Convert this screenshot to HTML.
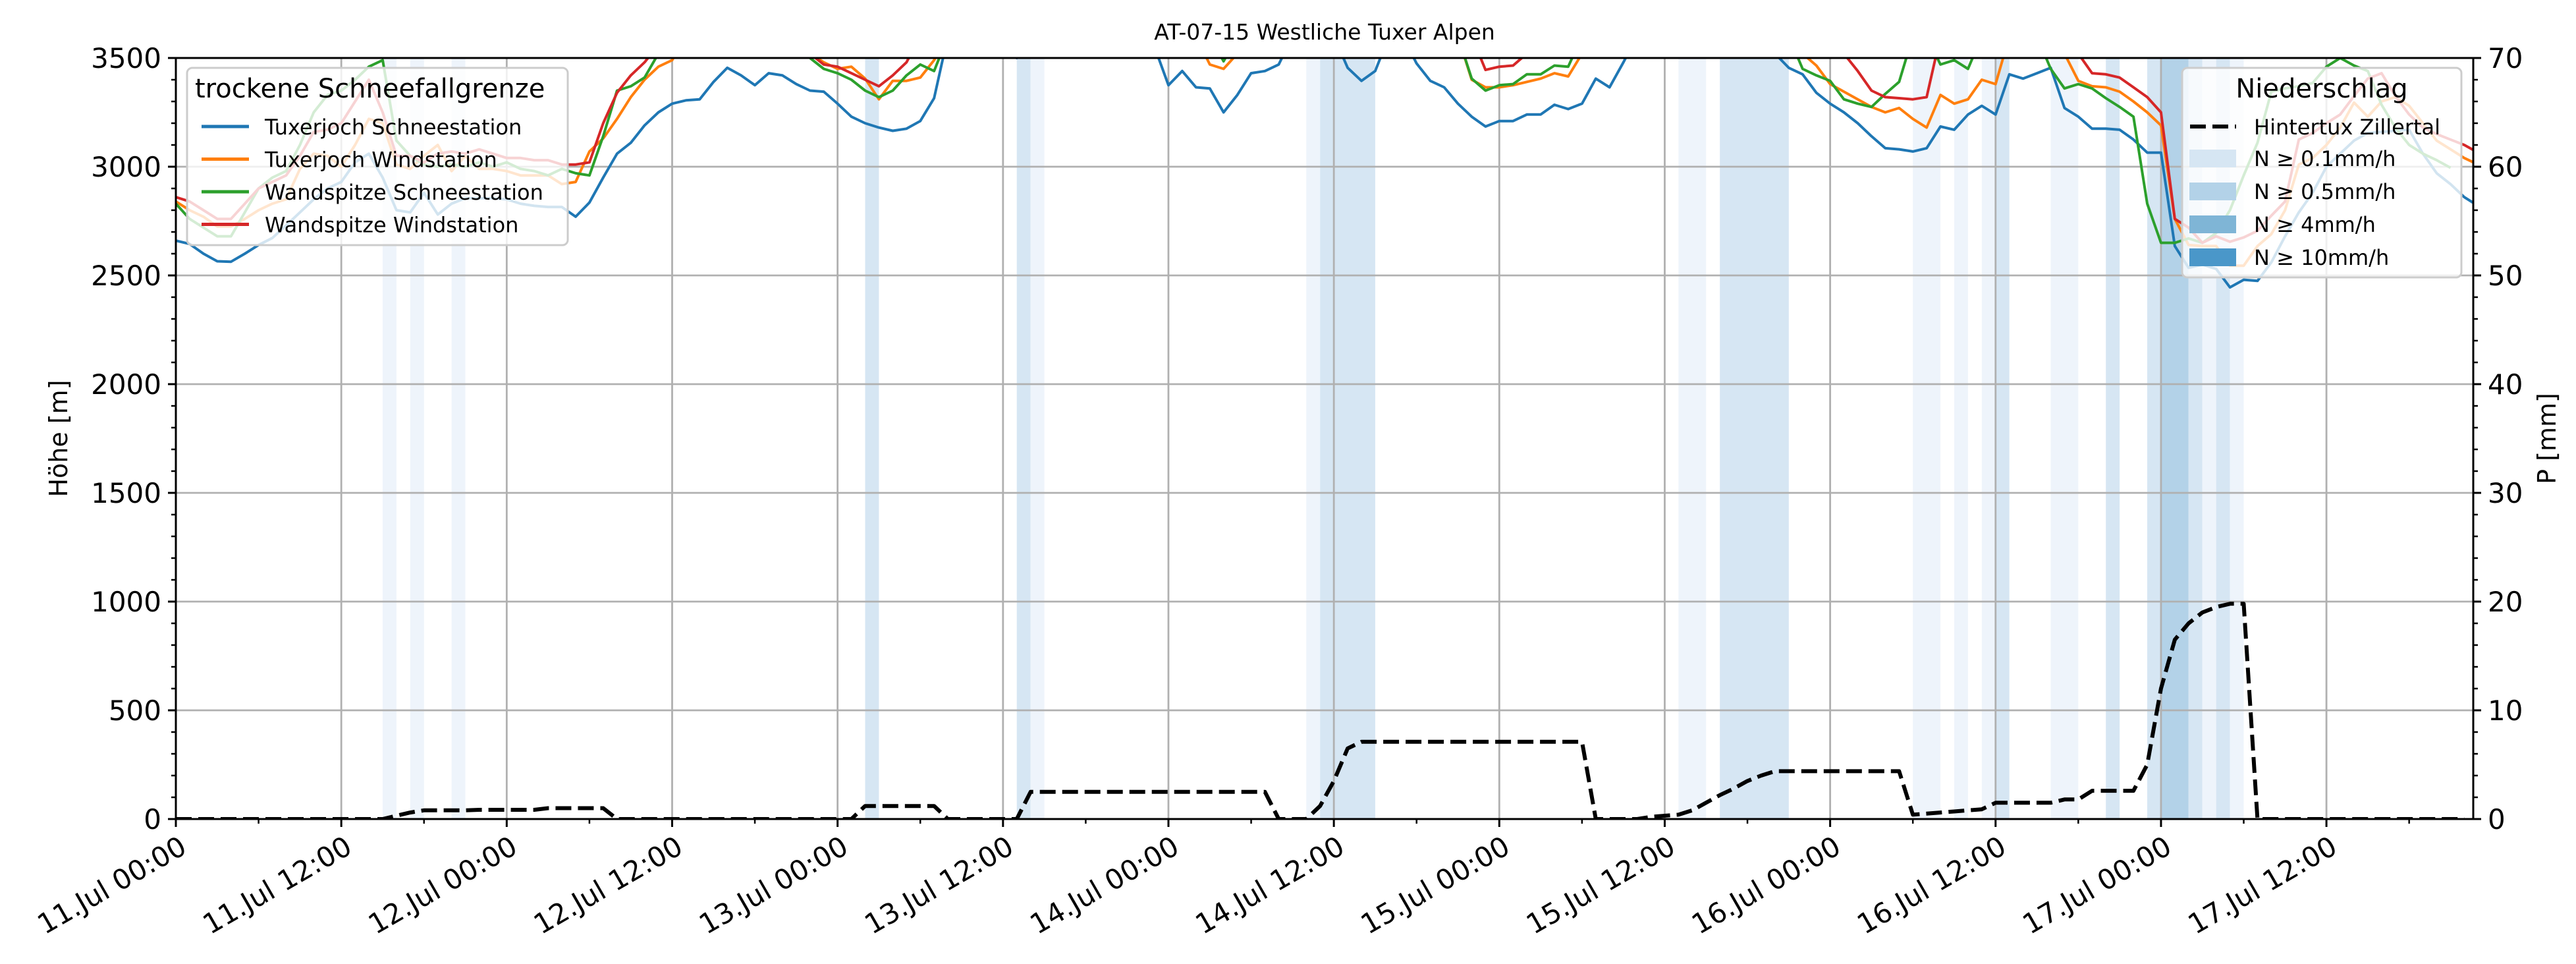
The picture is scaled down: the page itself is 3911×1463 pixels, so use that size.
<!DOCTYPE html>
<html><head><meta charset="utf-8"><style>
html,body{margin:0;padding:0;background:#fff;}
svg{display:block;font-family:"DejaVu Sans","Liberation Sans",sans-serif;}
</style></head><body>
<svg id="chart" width="3911" height="1463" viewBox="0 0 3911 1463" xmlns="http://www.w3.org/2000/svg">
<defs><clipPath id="plotclip"><rect x="267" y="88" width="3488" height="1155"/></clipPath></defs>
<text x="2011" y="60" font-size="33" text-anchor="middle">AT-07-15 Westliche Tuxer Alpen</text>
<g id="bands" clip-path="url(#plotclip)"></g>
<g id="grid"></g>
<g id="series" clip-path="url(#plotclip)"></g>
<g id="axes"></g>
<g id="legends"></g>
</svg>
<script>
const xTickHours=[0,12,24,36,48,60,72,84,96,108,120,132,144,156];
const xTickLabels=["11.Jul 00:00","11.Jul 12:00","12.Jul 00:00","12.Jul 12:00","13.Jul 00:00","13.Jul 12:00","14.Jul 00:00","14.Jul 12:00","15.Jul 00:00","15.Jul 12:00","16.Jul 00:00","16.Jul 12:00","17.Jul 00:00","17.Jul 12:00"];
const yLeftTicks=[0,500,1000,1500,2000,2500,3000,3500];
const yRightTicks=[0,10,20,30,40,50,60,70];
const tuxSchnee=[2660,2645,2600,2565,2563,2600,2640,2672,2730,2790,2850,2900,2930,3020,3060,2950,2800,2790,2880,2780,2830,2855,2855,2855,2850,2830,2820,2815,2815,2770,2835,2950,3060,3110,3190,3250,3290,3305,3310,3390,3455,3420,3375,3430,3420,3380,3350,3345,3290,3230,3200,3180,3165,3175,3210,3315,3600,3600,3600,3600,3600,3500,3600,3600,3600,3600,3600,3600,3600,3600,3600,3550,3375,3440,3365,3360,3250,3330,3430,3440,3470,3600,3600,3600,3600,3455,3395,3440,3600,3600,3475,3395,3365,3290,3230,3185,3210,3210,3240,3240,3285,3265,3290,3405,3365,3480,3600,3600,3600,3600,3600,3600,3600,3600,3600,3600,3520,3455,3425,3340,3290,3250,3200,3140,3085,3080,3070,3085,3185,3170,3240,3280,3240,3425,3405,3430,3455,3270,3230,3175,3175,3170,3125,3065,3065,2635,2535,2550,2530,2445,2480,2475,2560,2680,2790,2880,3000,3060,3120,3155,3160,3165,3170,3060,2970,2920,2860,2820];
const tuxWind=[2840,2800,2770,2725,2725,2760,2800,2830,2850,2990,3060,3050,3000,3100,3220,3200,3010,2990,3050,3100,2980,3050,2990,2990,2980,2960,2960,2960,2920,2930,3070,3130,3220,3320,3400,3460,3490,3600,3600,3600,3600,3600,3600,3600,3600,3600,3520,3480,3450,3460,3405,3310,3395,3395,3410,3490,3600,3600,3600,3600,3600,3600,3600,3600,3600,3600,3600,3600,3600,3600,3600,3600,3600,3600,3600,3470,3450,3520,3600,3600,3600,3600,3600,3600,3600,3600,3600,3600,3600,3600,3600,3600,3600,3600,3400,3365,3365,3375,3390,3405,3430,3415,3520,3600,3600,3600,3600,3600,3600,3600,3600,3600,3600,3600,3600,3600,3600,3600,3520,3465,3380,3345,3310,3275,3250,3270,3220,3180,3330,3290,3310,3400,3380,3600,3600,3600,3600,3520,3395,3370,3365,3345,3300,3250,3190,2760,2640,2635,2635,2545,2545,2635,2690,2800,3010,3040,3100,3180,3295,3230,3300,3320,3280,3200,3120,3080,3040,3010];
const wandSchnee=[2830,2760,2720,2680,2680,2790,2900,2950,2980,3100,3250,3330,3350,3400,3460,3490,3120,3050,3010,3000,3010,3000,3020,3000,3020,2990,2980,2960,2990,2970,2960,3140,3350,3370,3410,3520,3600,3600,3600,3600,3600,3600,3600,3600,3600,3600,3500,3450,3430,3400,3350,3320,3350,3420,3470,3440,3600,3600,3600,3600,3600,3600,3600,3600,3600,3600,3600,3600,3600,3600,3600,3600,3600,3600,3600,3600,3485,3600,3600,3600,3600,3600,3600,3600,3600,3600,3600,3600,3600,3600,3600,3600,3600,3600,3405,3350,3375,3380,3425,3425,3465,3460,3600,3600,3600,3600,3600,3600,3600,3600,3600,3600,3600,3600,3600,3600,3600,3600,3450,3420,3395,3310,3290,3275,3335,3390,3600,3600,3470,3490,3450,3600,3600,3600,3600,3600,3450,3360,3380,3360,3315,3275,3230,2830,2650,2650,2670,2650,2695,2800,2960,3110,3345,3360,3370,3385,3460,3500,3465,3440,3285,3180,3100,3060,3030,2995];
const wandWind=[2860,2840,2800,2760,2760,2830,2900,2930,2960,3050,3160,3170,3200,3300,3400,3250,3050,3050,3020,3060,3070,3060,3080,3060,3040,3040,3030,3030,3010,3010,3020,3200,3340,3420,3480,3560,3600,3600,3600,3600,3600,3600,3600,3600,3600,3600,3520,3470,3460,3430,3400,3370,3420,3480,3600,3600,3600,3600,3600,3600,3600,3600,3600,3600,3600,3600,3600,3600,3600,3600,3600,3600,3600,3600,3600,3600,3600,3600,3600,3600,3600,3600,3600,3600,3600,3600,3600,3600,3600,3600,3600,3600,3600,3600,3600,3445,3460,3465,3520,3600,3600,3600,3600,3600,3600,3600,3600,3600,3600,3600,3600,3600,3600,3600,3600,3600,3600,3600,3600,3600,3600,3520,3440,3350,3320,3315,3310,3320,3600,3600,3600,3600,3600,3600,3600,3600,3600,3600,3520,3430,3425,3410,3365,3320,3250,2760,2720,2650,2680,2655,2675,2705,2775,2840,3125,3155,3200,3240,3325,3405,3430,3325,3240,3180,3150,3125,3100,3065];
const precipHintertux=[0,0,0,0,0,0,0,0,0,0,0,0,0,0,0,0,0.3,0.6,0.8,0.8,0.8,0.8,0.85,0.85,0.85,0.85,0.85,1.0,1.0,1.0,1.0,1.0,0,0,0,0,0,0,0,0,0,0,0,0,0,0,0,0,0,0,1.2,1.2,1.2,1.2,1.2,1.2,0,0,0,0,0,0,2.5,2.5,2.5,2.5,2.5,2.5,2.5,2.5,2.5,2.5,2.5,2.5,2.5,2.5,2.5,2.5,2.5,2.5,0,0,0,1.2,3.5,6.5,7.1,7.1,7.1,7.1,7.1,7.1,7.1,7.1,7.1,7.1,7.1,7.1,7.1,7.1,7.1,7.1,7.1,0,0,0,0,0.2,0.3,0.4,0.8,1.5,2.2,2.8,3.5,4.0,4.4,4.4,4.4,4.4,4.4,4.4,4.4,4.4,4.4,4.4,0.4,0.5,0.6,0.7,0.8,0.9,1.5,1.5,1.5,1.5,1.5,1.8,1.8,2.6,2.6,2.6,2.6,5,12,16.5,18,19,19.5,19.8,19.8,0,0,0,0,0,0,0,0,0,0,0,0,0,0,0,0];
const bandStarts=[15,17,20,50,61,62,82,83,109,112,126,129,131,132,136,140,143,144,146,147,148,149];
const bandEnds=[16,18,21,51,62,63,83,87,111,117,128,130,132,133,138,141,144,146,147,148,149,150];
const bandLevels=[0,0,0,1,1,0,0,1,0,1,0,0,0,1,0,1,1,2,1,0,1,0];

const NS="http://www.w3.org/2000/svg";
const X0=267,X1=3755,Y0=88,Y1=1243,HMAX=166.65;
function xs(h){return X0+h/HMAX*(X1-X0);}
function yL(m){return Y1-m/3500*(Y1-Y0);}
function yR(p){return Y1-p/70*(Y1-Y0);}
function mk(tag,attrs,parent){const e=document.createElementNS(NS,tag);for(const k in attrs)e.setAttribute(k,attrs[k]);parent.appendChild(e);return e;}
const bandColors=["#eef4fb","#d6e6f3","#b3d2e8","#7fb5d6","#4a97c9"];

const gB=document.getElementById('bands');
for(let i=0;i<bandStarts.length;i++){
  const r=mk('rect',{x:xs(bandStarts[i]),y:Y0,width:xs(bandEnds[i])-xs(bandStarts[i]),height:Y1-Y0,fill:bandColors[bandLevels[i]]},gB);
  
  
}
const gG=document.getElementById('grid');
xTickHours.forEach(h=>{const l=mk('line',{x1:xs(h),x2:xs(h),y1:Y0,y2:Y1,stroke:'#b0b0b0','stroke-width':2.8},gG);
  
  });
yLeftTicks.forEach(m=>{const l=mk('line',{x1:X0,x2:X1,y1:yL(m),y2:yL(m),stroke:'#b0b0b0','stroke-width':2.8},gG);
  
  });

const gS=document.getElementById('series');
function poly(vals,scale,color,w,dash,name){
  const pts=vals.map((v,i)=>xs(i).toFixed(1)+','+scale(v).toFixed(1)).join(' ');
  const p=mk('polyline',{points:pts,fill:'none',stroke:color,'stroke-width':w,'stroke-linejoin':'round'},gS);
  if(dash)p.setAttribute('stroke-dasharray',dash);
  
  
}
poly(tuxSchnee,yL,'#1f77b4',4,null,'line-tuxerjoch-schneestation');
poly(tuxWind,yL,'#ff7f0e',4,null,'line-tuxerjoch-windstation');
poly(wandSchnee,yL,'#2ca02c',4,null,'line-wandspitze-schneestation');
poly(wandWind,yL,'#d62728',4,null,'line-wandspitze-windstation');
poly(precipHintertux,yR,'#000',6,'24,10','line-hintertux-precip');

const gA=document.getElementById('axes');
mk('rect',{x:X0,y:Y0,width:X1-X0,height:Y1-Y0,fill:'none',stroke:'#000','stroke-width':3},gA);
for(let m=0;m<=3500;m+=100){const major=m%500===0;const len=major?12:7;
  mk('line',{x1:X0-len,x2:X0,y1:yL(m),y2:yL(m),stroke:'#000','stroke-width':major?3:2.5},gA);
  mk('line',{x1:X1,x2:X1+len,y1:yL(m),y2:yL(m),stroke:'#000','stroke-width':major?3:2.5},gA);}
for(let h=0;h<=HMAX;h+=6){const major=h%12===0;const len=major?12:7;
  mk('line',{x1:xs(h),x2:xs(h),y1:Y1,y2:Y1+len,stroke:'#000','stroke-width':major?3:2.5},gA);}
yLeftTicks.forEach(m=>{const t=mk('text',{x:X0-22,y:yL(m)+15,'font-size':42,'text-anchor':'end'},gA);t.textContent=m;
  
  });
yRightTicks.forEach(p=>{const t=mk('text',{x:X1+22,y:yR(p)+15,'font-size':42,'text-anchor':'start'},gA);t.textContent=p;
  
  });
xTickHours.forEach((h,i)=>{const x=xs(h)+4,y=Y1+24;
  const t=mk('text',{x:0,y:0,'font-size':42,'text-anchor':'end',transform:`translate(${x},${y}) rotate(-30) translate(0,30)`},gA);
  t.textContent=xTickLabels[i];
  
  });
let t=mk('text',{x:0,y:0,'font-size':38,'text-anchor':'middle',transform:`translate(102,${(Y0+Y1)/2}) rotate(-90)`},gA);t.textContent='Höhe [m]';


t=mk('text',{x:0,y:0,'font-size':38,'text-anchor':'middle',transform:`translate(3880,${(Y0+Y1)/2}) rotate(-90)`},gA);t.textContent='P [mm]';



const gL=document.getElementById('legends');
let box=mk('rect',{x:284,y:103,width:578,height:269,rx:8,fill:'rgba(255,255,255,0.8)',stroke:'#cccccc','stroke-width':3},gL);


t=mk('text',{x:296,y:148,'font-size':40},gL);t.textContent='trockene Schneefallgrenze';


const legNames=['Tuxerjoch Schneestation','Tuxerjoch Windstation','Wandspitze Schneestation','Wandspitze Windstation'];
const legColors=['#1f77b4','#ff7f0e','#2ca02c','#d62728'];
legNames.forEach((n,i)=>{const y=192+i*49.5;
  const l=mk('line',{x1:306,x2:378,y1:y,y2:y,stroke:legColors[i],'stroke-width':5},gL);
  
  
  const tt=mk('text',{x:402,y:y+12,'font-size':32},gL);tt.textContent=n;
  
  });
box=mk('rect',{x:3313,y:103,width:424,height:318,rx:8,fill:'rgba(255,255,255,0.8)',stroke:'#cccccc','stroke-width':3},gL);


t=mk('text',{x:3525,y:148,'font-size':40,'text-anchor':'middle'},gL);t.textContent='Niederschlag';


let l=mk('line',{x1:3325,x2:3395,y1:192,y2:192,stroke:'#000','stroke-width':6,'stroke-dasharray':'24,10'},gL);


t=mk('text',{x:3422,y:204,'font-size':32},gL);t.textContent='Hintertux Zillertal';


const pNames=['N ≥ 0.1mm/h','N ≥ 0.5mm/h','N ≥ 4mm/h','N ≥ 10mm/h'];
pNames.forEach((n,i)=>{const y=240+i*50;
  const r=mk('rect',{x:3324,y:y-13,width:71,height:27,fill:bandColors[i+1]},gL);
  
  
  const tt=mk('text',{x:3422,y:y+12,'font-size':32},gL);tt.textContent=n;
  
  });
</script>
</body></html>
